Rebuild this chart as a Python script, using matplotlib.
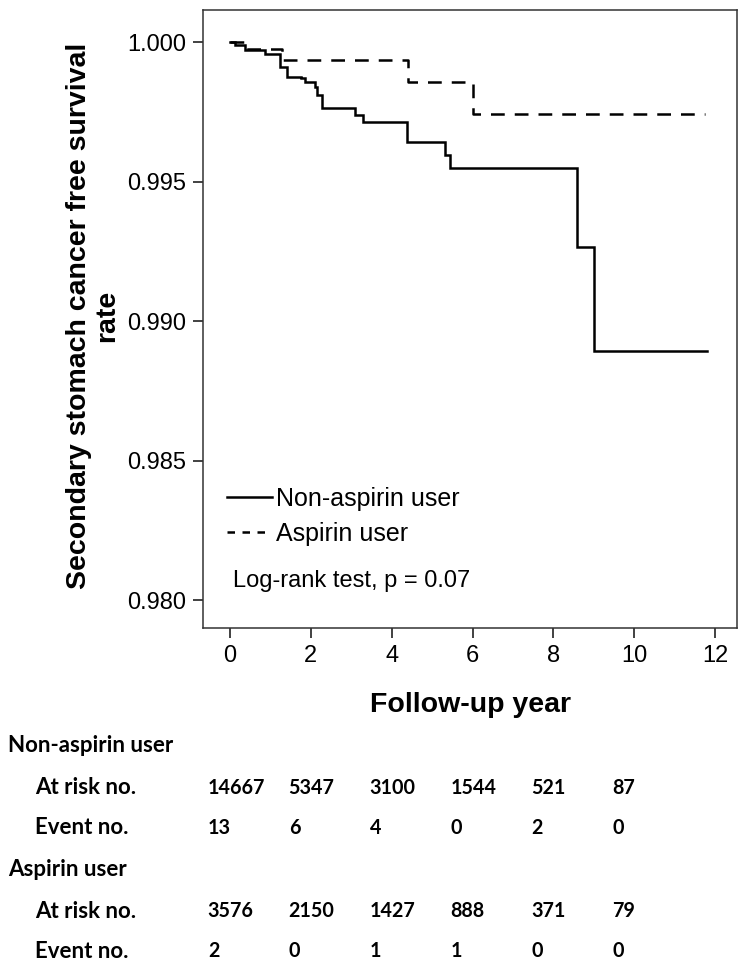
import matplotlib
matplotlib.use("Agg")
import matplotlib.pyplot as plt
import matplotlib.transforms as mtransforms
from matplotlib.lines import Line2D

plt.rcParams['font.family'] = ['Liberation Sans', 'DejaVu Sans']

# Kaplan-Meier step points (years, survival)
non_aspirin_t = [0, 0.12, 0.38, 0.86, 1.24, 1.40, 1.76, 1.85, 2.11, 2.15, 2.28,
                 3.10, 3.28, 4.38, 5.31, 5.44, 8.59, 9.00, 11.79]
non_aspirin_s = [1.0, 0.99989, 0.99971, 0.99957, 0.99911, 0.99876, 0.99870,
                 0.99858, 0.99840, 0.99810, 0.99762, 0.99738, 0.99714, 0.99643,
                 0.99595, 0.99547, 0.99265, 0.98893, 0.98893]
aspirin_t = [0, 0.35, 1.29, 4.40, 6.00, 11.74]
aspirin_s = [1.0, 0.99974, 0.99935, 0.99857, 0.99744, 0.99744]

# numbers-at-risk table
table_years = [0, 2, 4, 6, 8, 10]
non_risk = ['14667', '5347', '3100', '1544', '521', '87']
non_event = ['13', '6', '4', '0', '2', '0']
asp_risk = ['3576', '2150', '1427', '888', '371', '79']
asp_event = ['2', '0', '1', '1', '0', '0']

W, H = 746, 964
fig = plt.figure(figsize=(W / 100, H / 100), dpi=100)
ax = fig.add_axes([203 / W, 1 - 628 / H, 534 / W, 618 / H])

ax.step(non_aspirin_t, non_aspirin_s, where='post', color='black', lw=1.8,
        solid_joinstyle='miter')
ax.step(aspirin_t, aspirin_s, where='post', color='black', lw=1.8,
        dashes=(5.5, 4.0))

ax.set_xlim(-0.668, 12.54)
ax.set_ylim(0.97900, 1.00115)
ax.set_xticks(range(0, 13, 2))
ax.set_yticks([0.980, 0.985, 0.990, 0.995, 1.000])
ax.set_yticklabels(['0.980', '0.985', '0.990', '0.995', '1.000'])
ax.tick_params(labelsize=17, length=7, width=1.3, color='#333333', pad=5)
for s in ax.spines.values():
    s.set_linewidth(1.1)
    s.set_color('#333333')

ax.set_xlabel('Follow-up year', fontsize=20.5, fontweight='bold', va='center')
ax.xaxis.set_label_coords(0.5, -0.124)
ax.set_ylabel('Secondary stomach cancer free survival\nrate', fontsize=20.5,
              fontweight='bold', va='center', ha='center', linespacing=1.1)
ax.yaxis.set_label_coords(-0.206, 0.505)

handles = [Line2D([], [], color='black', lw=1.8),
           Line2D([], [], color='black', lw=1.8, dashes=(3, 3))]
ax.legend(handles, ['Non-aspirin user', 'Aspirin user'], loc='upper left',
          bbox_to_anchor=(0.045, 0.228), frameon=False, fontsize=18,
          handlelength=1.8, handletextpad=0.15, labelspacing=0.42,
          borderaxespad=0, borderpad=0)
ax.text(0.056, 0.076, 'Log-rank test, p = 0.07', transform=ax.transAxes,
        fontsize=17, va='center', ha='left')

# at-risk table below the chart
lab_font = dict(family=['Lato', 'DejaVu Sans'], fontsize=16, fontweight='bold',
                va='center')
num_font = dict(family=['Lato', 'DejaVu Sans'], fontsize=14.2, fontweight='bold',
                va='center')
trans = mtransforms.blended_transform_factory(ax.transData, fig.transFigure)
rows = [
    (746, 'Non-aspirin user', None),
    (788, 'At risk no.', non_risk),
    (828, 'Event no.', non_event),
    (869, 'Aspirin user', None),
    (911, 'At risk no.', asp_risk),
    (951, 'Event no.', asp_event),
]
for ypx, label, vals in rows:
    yf = 1 - ypx / H
    if vals is None:
        fig.text(8 / W, yf, label, **lab_font)
    else:
        fig.text(35 / W, yf, label, **lab_font)
        for yr, v in zip(table_years, vals):
            ax.text(yr - 0.55, yf, v, transform=trans, ha='left', clip_on=False,
                    **num_font)

fig.savefig('out.png', dpi=100)
